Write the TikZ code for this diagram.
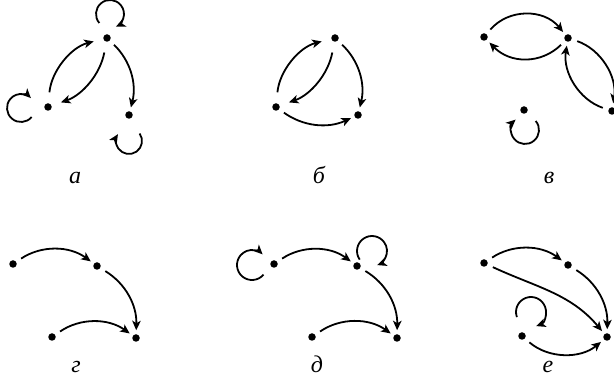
\documentclass[tikz,border=0pt]{standalone}
\usepackage{fontspec}
\setmainfont{Liberation Serif}
\usetikzlibrary{arrows.meta,calc}
\begin{document}
\begin{tikzpicture}[x=1pt,y=1pt,
  dot/.style={circle,fill=black,inner sep=0pt,minimum size=7.5pt,outer sep=0pt},
  arr/.style={line width=1.8pt,-{Stealth[length=9.5pt,width=8.5pt,inset=2.5pt]}},
  ed/.style={arr,shorten <=6pt,shorten >=4pt},
  lens/.style={arr,shorten <=11pt,shorten >=10pt},
  lbl/.style={anchor=base,font=\fontsize{24}{26}\selectfont\itshape,inner sep=0pt}]
\useasboundingbox (0,-379) rectangle (614,0);
% panel a
\node[dot] (A1) at (107,-38) {};
\node[dot] (A2) at (48,-107) {};
\node[dot] (A3) at (129,-115) {};
\draw[lens] (A2) to[bend left=35] (A1);
\draw[lens] (A1) to[bend left=30] (A2);
\draw[ed] (A1) to[bend left=30] (A3);
\draw[arr] ($(A1)+(3,24)+(220:14)$) arc[start angle=220,end angle=-65,radius=14pt];
\draw[arr] ($(A2)+(-27,-1)+(-40:14)$) arc[start angle=-40,end angle=-315,radius=14pt];
\draw[arr] ($(A3)+(0,-26)+(35:13)$) arc[start angle=35,end angle=-212,radius=13pt];
\node[lbl] (la) at (75,-184) {а};
% panel b
\node[dot] (B1) at (335,-38) {};
\node[dot] (B2) at (276,-107) {};
\node[dot] (B3) at (358,-115) {};
\draw[lens] (B2) to[bend left=35] (B1);
\draw[lens] (B1) to[bend left=30] (B2);
\draw[ed] (B1) to[bend left=30] (B3);
\draw[ed] (B2) to[bend right=30] (B3);
\node[lbl] (lb) at (319,-184) {б};
% panel c
\node[dot] (C1) at (484,-37) {};
\node[dot] (C2) at (568,-38) {};
\node[dot] (C3) at (612,-111) {};
\node[dot] (C4) at (524,-110) {};
\draw[ed] (C1) to[bend left=50,looseness=1.1] (C2);
\draw[ed] (C2) to[bend left=45,looseness=1.1] (C1);
\draw[ed] (C2) to[bend left=40] (C3);
\draw[ed] (C3) to[bend left=40] (C2);
\draw[arr] ($(C4)+(1,-20)+(40:14)$) arc[start angle=40,end angle=-228,radius=14pt];
\node[lbl] (lc) at (549,-184) {в};
% panel g
\node[dot] (G1) at (13,-264) {};
\node[dot] (G2) at (97,-266) {};
\node[dot] (G3) at (52,-337) {};
\node[dot] (G4) at (136,-338) {};
\draw[ed] (G1) to[bend left=35] (G2);
\draw[ed] (G2) to[bend left=30] (G4);
\draw[ed] (G3) to[bend left=35] (G4);
\node[lbl] (lg) at (76,-373) {г};
% panel d
\node[dot] (D1) at (274,-264) {};
\node[dot] (D2) at (357,-266) {};
\node[dot] (D3) at (312,-337) {};
\node[dot] (D4) at (397,-338) {};
\draw[ed] (D1) to[bend left=35] (D2);
\draw[ed] (D2) to[bend left=30] (D4);
\draw[ed] (D3) to[bend left=35] (D4);
\draw[arr] ($(D1)+(-22,-1)+(-40:15)$) arc[start angle=-40,end angle=-315,radius=15pt];
\draw[arr] ($(D2)+(15,15)+(215:15)$) arc[start angle=215,end angle=-70,radius=15pt];
\node[lbl] (ld) at (317,-373) {д};
% panel e
\node[dot] (E1) at (484,-263) {};
\node[dot] (E2) at (568,-265) {};
\node[dot] (E3) at (522,-336) {};
\node[dot] (E4) at (607,-337) {};
\draw[ed] (E1) to[bend left=35] (E2);
\draw[ed] (E2) to[bend left=30] (E4);
\draw[ed] (E3) to[bend right=40] (E4);
\draw[ed] (E1) to[out=-25,in=130] (E4);
\draw[arr] ($(E3)+(9,24)+(200:15)$) arc[start angle=200,end angle=-70,radius=15pt];
\node[lbl] (le) at (548,-373) {е};
\end{tikzpicture}
\end{document}
